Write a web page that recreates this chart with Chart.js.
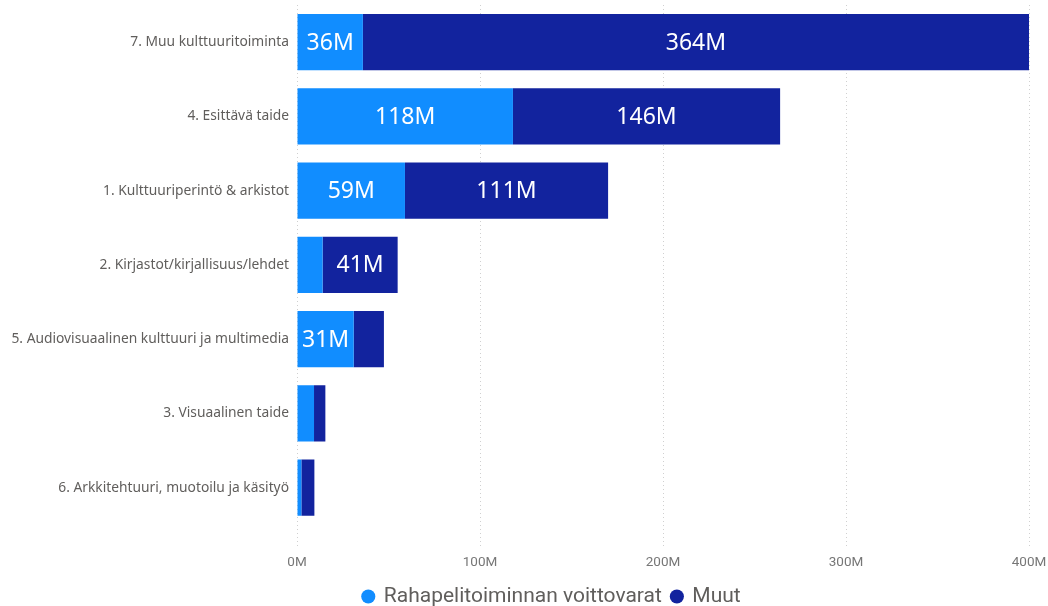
<!DOCTYPE html>
<html><head><meta charset="utf-8">
<script src="https://cdn.jsdelivr.net/npm/chart.js@4.4.1/dist/chart.umd.min.js"></script>
<style>html,body{margin:0;padding:0;background:#fff}#wrap{width:1048px;height:606px;position:relative}</style>
</head><body><div id="wrap"><canvas id="c"></canvas></div>
<script>
const categories = ["7. Muu kulttuuritoiminta","4. Esittävä taide","1. Kulttuuriperintö & arkistot","2. Kirjastot/kirjallisuus/lehdet","5. Audiovisuaalinen kulttuuri ja multimedia","3. Visuaalinen taide","6. Arkkitehtuuri, muotoilu ja käsityö"];
const rahapeli = [36, 118, 59, 14, 31, 9.3, 2.4];
const muut = [364, 146, 111, 41, 16.5, 6.2, 7.1];
const xTicks = [0, 100, 200, 300, 400];
const seriesNames = ["Rahapelitoiminnan voittovarat", "Muut"];

const labelPlugin = {
  id: 'segLabels',
  afterDatasetsDraw(chart) {
    const ctx = chart.ctx;
    ctx.save();
    ctx.font = '23px "Noto Sans", sans-serif';
    ctx.fillStyle = '#ffffff';
    ctx.textAlign = 'center';
    ctx.textBaseline = 'middle';
    chart.data.datasets.forEach((ds, di) => {
      const meta = chart.getDatasetMeta(di);
      meta.data.forEach((el, i) => {
        const txt = Math.round(ds.data[i]) + 'M';
        const w = Math.abs(el.x - el.base);
        if (ctx.measureText(txt).width + 6 <= w) {
          ctx.fillText(txt, (el.x + el.base) / 2, el.y + 1);
        }
      });
    });
    ctx.restore();
  }
};

const legendShift = {
  id: 'legendShift',
  afterLayout(chart) {
    const lg = chart.legend;
    if (lg) { lg.left = 0; lg.right = 1104; lg.width = 1104; }
  }
};

new Chart(document.getElementById('c'), {
  type: 'bar',
  data: {
    labels: categories,
    datasets: [
      {label: seriesNames[0], data: rahapeli, backgroundColor: '#118DFF', borderWidth: 0, barPercentage: 0.757, categoryPercentage: 1},
      {label: seriesNames[1], data: muut, backgroundColor: '#12239E', borderWidth: 0, barPercentage: 0.757, categoryPercentage: 1}
    ]
  },
  options: {
    indexAxis: 'y',
    responsive: true,
    maintainAspectRatio: false,
    animation: false,
    layout: {padding: {top: 5, right: 19, left: 0, bottom: -11}},
    plugins: {
      tooltip: {enabled: false},
      legend: {
        position: 'bottom',
        labels: {
          usePointStyle: true, pointStyle: 'circle', boxWidth: 10, boxHeight: 10,
          padding: 10,
          color: '#605E5C',
          font: {family: '"Roboto", sans-serif', size: 21}
        }
      }
    },
    scales: {
      x: {
        stacked: true,
        min: 0, max: 400,
        afterBuildTicks(axis) { axis.ticks = xTicks.map(v => ({value: v})); },
        afterFit(axis) { axis.height -= 3; axis.paddingLeft = 0; axis.paddingRight = 0; },
        ticks: {
          color: '#777777',
          padding: 8,
          font: {family: '"Roboto", sans-serif', size: 13.5},
          callback: v => v + 'M'
        },
        grid: {
          color: '#d0d0d0', lineWidth: 1,
          drawTicks: true, tickLength: 22, tickColor: '#d0d0d0', tickBorderDash: [1, 3]
        },
        border: {display: false, dash: [1, 3]}
      },
      y: {
        stacked: true,
        afterFit(axis) { axis.width = 297; axis.paddingTop = 0; axis.paddingBottom = 0; },
        ticks: {
          color: '#605E5C',
          padding: 8,
          font: {family: '"Noto Sans", sans-serif', size: 13.8}
        },
        grid: {display: false, drawTicks: false},
        border: {display: false}
      }
    }
  },
  plugins: [labelPlugin, legendShift]
});
</script></body></html>
